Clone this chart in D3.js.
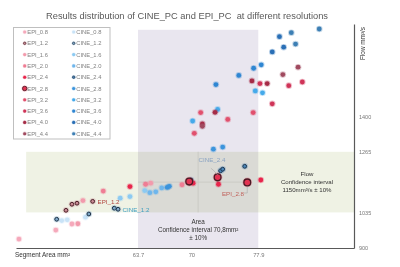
<!DOCTYPE html>
<html>
<head>
<meta charset="utf-8">
<script src="https://cdn.jsdelivr.net/npm/d3@7"></script>
<style>
  html, body { margin: 0; padding: 0; background: #fff; }
  svg { font-family: "Liberation Sans", Arial, sans-serif; display: block; }
</style>
</head>
<body>
<svg id="chart" width="400" height="267"></svg>
<script>
// ---- data (segment area mm², flow mm³/s) ----
const seriesNames = ["EPI_0.8", "CINE_0.8", "EPI_1.2", "CINE_1.2", "EPI_1.6", "CINE_1.6",
  "EPI_2.0", "CINE_2.0", "EPI_2.4", "CINE_2.4", "EPI_2.8", "CINE_2.8",
  "EPI_3.2", "CINE_3.2", "EPI_3.6", "CINE_3.6", "EPI_4.0", "CINE_4.0", "EPI_4.4", "CINE_4.4"];

const epi08 = [[49.65, 934], [54.0, 968], [55.9, 991]];
const epi12 = [[55.2, 1043], [55.9, 1066], [56.5, 1070], [58.35, 1077]];
const epi16 = [[56.6, 992], [57.2, 1080], [65.2, 1146]];
const epi20 = [[59.6, 1116], [64.6, 1142], [68.9, 1140]];
const epi24 = [[62.75, 1133], [70.2, 1146], [73.2, 1142], [78.2, 1158]];
const epi28 = [[69.75, 1152], [73.1, 1168], [76.6, 1149]];
const epi32 = [[70.35, 1335], [71.1, 1414], [74.3, 1388], [77.3, 1414]];
const epi36 = [[79.55, 1447], [78.1, 1524], [81.5, 1516], [83.1, 1530]];
const epi40 = [[71.3, 1371], [72.8, 1415], [77.15, 1534], [78.95, 1524]];
const epi44 = [[71.3, 1362], [80.8, 1558], [82.6, 1586]];

const cine08 = [[54.7, 1004], [55.35, 1007], [57.5, 1017]];
const cine12 = [[54.1, 1009], [57.9, 1029], [60.9, 1051], [61.35, 1047]];
const cine16 = [[61.6, 1089], [62.75, 1095], [64.5, 1118]];
const cine20 = [[65.1, 1110], [65.8, 1113], [66.5, 1128]];
const cine24 = [[69.95, 1158], [73.45, 1193], [73.7, 1199], [76.3, 1210]];
const cine28 = [[67.15, 1130], [67.4, 1134], [72.6, 1275], [73.7, 1283]];
const cine32 = [[70.15, 1382], [73.1, 1426], [77.55, 1496], [78.4, 1489]];
const cine36 = [[72.9, 1520], [75.6, 1555], [77.35, 1582], [78.25, 1595]];
const cine40 = [[79.55, 1644], [80.9, 1662], [80.4, 1702]];
const cine44 = [[81.8, 1717], [82.3, 1674], [85.1, 1731]];

const seriesValues = {
  "EPI_0.8": epi08, "EPI_1.2": epi12, "EPI_1.6": epi16, "EPI_2.0": epi20, "EPI_2.4": epi24,
  "EPI_2.8": epi28, "EPI_3.2": epi32, "EPI_3.6": epi36, "EPI_4.0": epi40, "EPI_4.4": epi44,
  "CINE_0.8": cine08, "CINE_1.2": cine12, "CINE_1.6": cine16, "CINE_2.0": cine20, "CINE_2.4": cine24,
  "CINE_2.8": cine28, "CINE_3.2": cine32, "CINE_3.6": cine36, "CINE_4.0": cine40, "CINE_4.4": cine44
};

const xTicks = [63.7, 70, 77.9];
const yTicks = [900, 1035, 1265, 1400];
const areaTarget = 70.8, areaBand = [63.7, 77.9];
const flowTarget = 1150, flowBand = [1035, 1265];

// ---- styles ----
const style = {
  "EPI_0.8": { fill: "#f5a9bb" },
  "EPI_1.2": { fill: "#c98a94", ring: "#4a1f27" },
  "EPI_1.6": { fill: "#f29aac" },
  "EPI_2.0": { fill: "#ef7d94" },
  "EPI_2.4": { fill: "#e8254b" },
  "EPI_2.8": { fill: "#e23352", ring: "#4a1a24", big: true },
  "EPI_3.2": { fill: "#e1506d" },
  "EPI_3.6": { fill: "#cf3458" },
  "EPI_4.0": { fill: "#a52c47" },
  "EPI_4.4": { fill: "#a04a5f" },
  "CINE_0.8": { fill: "#c9e3f7" },
  "CINE_1.2": { fill: "#7fa8c8", ring: "#1b2f45" },
  "CINE_1.6": { fill: "#8ccaf2" },
  "CINE_2.0": { fill: "#6fb6ec" },
  "CINE_2.4": { fill: "#4b86b8", ring: "#1b3550" },
  "CINE_2.8": { fill: "#3c94dc" },
  "CINE_3.2": { fill: "#45aaea" },
  "CINE_3.6": { fill: "#2f86d2" },
  "CINE_4.0": { fill: "#2a6fb6" },
  "CINE_4.4": { fill: "#3d7fb4" }
};

const svg = d3.select("#chart");

const x = d3.scaleLinear().domain([49.3, 89.2]).range([16, 354]);
const y = d3.scaleLinear().domain([900, 1750]).range([248, 24]);

// title
svg.append("text")
  .attr("x", 187).attr("y", 18.5)
  .attr("text-anchor", "middle")
  .attr("font-size", 9.3).attr("fill", "#595959")
  .attr("xml:space", "preserve")
  .text("Results distribution of CINE_PC and EPI_PC  at different resolutions");

// confidence bands
svg.append("rect")
  .attr("x", x(areaBand[0])).attr("y", y(1728))
  .attr("width", x(areaBand[1]) - x(areaBand[0]))
  .attr("height", y(900) - y(1728))
  .attr("fill", "#e9e6ef");

svg.append("rect")
  .attr("x", x(50.5)).attr("y", y(flowBand[1]))
  .attr("width", x(89.2) - x(50.5))
  .attr("height", y(flowBand[0]) - y(flowBand[1]))
  .attr("fill", "#eff2e4")
  .style("mix-blend-mode", "multiply");

// target cross lines
svg.append("line")
  .attr("x1", x(areaBand[0])).attr("x2", x(76.6))
  .attr("y1", y(flowTarget)).attr("y2", y(flowTarget))
  .attr("stroke", "#c8c8c2").attr("stroke-width", 0.8);
svg.append("line")
  .attr("x1", x(areaTarget)).attr("x2", x(areaTarget))
  .attr("y1", y(flowBand[1])).attr("y2", y(flowBand[0]))
  .attr("stroke", "#c8c8c2").attr("stroke-width", 0.8);

// band texts
const areaText = svg.append("text").attr("text-anchor", "middle")
  .attr("font-size", 6.3).attr("fill", "#333");
areaText.append("tspan").attr("x", x(areaTarget)).attr("y", 224).text("Area");
areaText.append("tspan").attr("x", x(areaTarget)).attr("y", 232)
  .text("Confidence interval 70,8mm²");
areaText.append("tspan").attr("x", x(areaTarget)).attr("y", 240).text("± 10%");

const flowText = svg.append("text").attr("text-anchor", "middle")
  .attr("font-size", 6.1).attr("fill", "#333");
flowText.append("tspan").attr("x", 307).attr("y", 176).text("Flow");
flowText.append("tspan").attr("x", 307).attr("y", 184).text("Confidence interval");
flowText.append("tspan").attr("x", 307).attr("y", 192).text("1150mm³/s ± 10%");

// axes
const xAxis = svg.append("g")
  .attr("transform", `translate(0,${y(900)})`)
  .call(d3.axisBottom(x).tickValues(xTicks).tickSize(0).tickSizeOuter(0).tickPadding(5)
    .tickFormat(d => String(d)));
xAxis.select(".domain").attr("stroke", "#595959").attr("stroke-width", 1.2);
xAxis.selectAll("text").attr("font-size", 5.8).attr("fill", "#777")
  .attr("font-family", "Liberation Sans, Arial, sans-serif");

const yAxis = svg.append("g")
  .attr("transform", `translate(${x(89.2)},0)`)
  .call(d3.axisRight(y).tickValues(yTicks).tickSize(0).tickSizeOuter(0).tickPadding(5)
    .tickFormat(d => String(d)));
yAxis.select(".domain").attr("stroke", "#595959").attr("stroke-width", 1.2);
yAxis.selectAll("text").attr("font-size", 5.5).attr("fill", "#777")
  .attr("font-family", "Liberation Sans, Arial, sans-serif");

svg.append("text")
  .attr("x", 15).attr("y", 257)
  .attr("font-size", 6.4).attr("fill", "#333")
  .text("Segment Area mm²");

svg.append("text")
  .attr("transform", "translate(365,60) rotate(-90)")
  .attr("font-size", 6.4).attr("fill", "#333")
  .text("Flow mm³/s");

// points
function drawMarker(g, cx, cy, st, scale) {
  const r = (st.big ? 3.9 : 2.4) * scale;
  g.append("circle")
    .attr("cx", cx).attr("cy", cy).attr("r", r + 0.9 * scale)
    .attr("fill", st.fill).attr("opacity", 0.3);
  g.append("circle")
    .attr("cx", cx).attr("cy", cy).attr("r", st.ring ? r - 0.5 * scale : r)
    .attr("fill", st.fill)
    .attr("stroke", st.ring || "none")
    .attr("stroke-width", st.ring ? (st.big ? 1.3 : 1) * scale : 0);
}

const pts = svg.append("g");
seriesNames.forEach(name => {
  seriesValues[name].forEach(d => drawMarker(pts, x(d[0]), y(d[1]), style[name], 1));
});

// callouts
const callout = svg.append("g");
callout.append("path")
  .attr("d", `M${x(73.1)},${y(1178)} L${x(72.6)},${y(1180) - 4} L${x(72.3)},${y(1180) - 6}`)
  .attr("fill", "none").attr("stroke", "#aaa").attr("stroke-width", 0.6);
callout.append("text").attr("x", 212).attr("y", 162).attr("text-anchor", "middle")
  .attr("font-size", 6.2).attr("fill", "#8aa3c2").text("CINE_2.4");

callout.append("path")
  .attr("d", `M${x(76.6)},${y(1149) + 4.5} L${x(76.6)},193 L244,193`)
  .attr("fill", "none").attr("stroke", "#aaa").attr("stroke-width", 0.6);
callout.append("text").attr("x", 233).attr("y", 195.5).attr("text-anchor", "middle")
  .attr("font-size", 6.2).attr("fill", "#c0605a").text("EPI_2.8");

callout.append("text").attr("x", 97.5).attr("y", 203.5)
  .attr("font-size", 6.2).attr("fill", "#b0453f").text("EPI_1.2");
callout.append("text").attr("x", 122.5).attr("y", 212)
  .attr("font-size", 6.2).attr("fill", "#3f9ec0").text("CINE_1.2");

// legend
const legend = svg.append("g");
legend.append("rect")
  .attr("x", 13.5).attr("y", 27.5).attr("width", 96.5).attr("height", 111.5)
  .attr("fill", "#fff").attr("stroke", "#bfbfbf").attr("stroke-width", 1);

seriesNames.forEach((name, i) => {
  const col = i % 2, row = Math.floor(i / 2);
  const lx = col === 0 ? 24.7 : 73.7;
  const ly = 32 + row * 11.3;
  drawMarker(legend, lx, ly, style[name], 0.65);
  legend.append("text")
    .attr("x", lx + 2.6).attr("y", ly + 2)
    .attr("font-size", 5.8).attr("fill", "#808080")
    .text(name);
});
</script>
</body>
</html>
